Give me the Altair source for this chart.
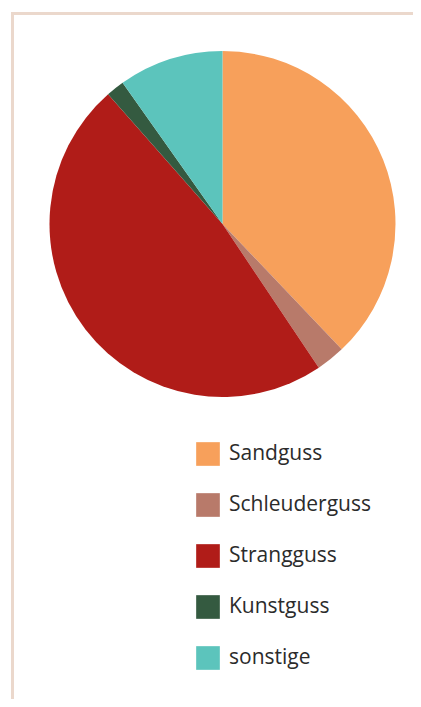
import altair as alt
import pandas as pd

categories = ["Sandguss", "Schleuderguss", "Strangguss", "Kunstguss", "sonstige"]
shares = [37.9, 2.7, 47.9, 1.7, 9.8]
colors = ["#F7A05B", "#B87A6A", "#B01C18", "#345A40", "#5CC4BC"]

df = pd.DataFrame({"Gussart": categories, "Anteil": shares, "order": list(range(len(categories)))})

W, H = 405, 691

pie = alt.Chart(df).mark_arc(outerRadius=173, stroke=None).encode(
    theta=alt.Theta("Anteil:Q", stack=True),
    order=alt.Order("order:Q"),
    color=alt.Color(
        "Gussart:N",
        sort=categories,
        scale=alt.Scale(domain=categories, range=colors),
        legend=alt.Legend(
            title=None,
            orient="none",
            legendX=188,
            legendY=434,
            symbolType="square",
            symbolSize=560,
            symbolStrokeWidth=0,
            labelFontSize=21,
            labelFont="Open Sans",
            labelColor="#2b2b2b",
            labelOffset=9,
            rowPadding=27,
            padding=0,
        ),
    ),
    x=alt.value(214.5),
    y=alt.value(216),
)

border_top = alt.Chart(df).mark_rule(color="#EBD8CC", strokeWidth=3).encode(
    x=alt.value(4.5), x2=alt.value(W), y=alt.value(5.5)
)
border_left = alt.Chart(df).mark_rule(color="#EBD8CC", strokeWidth=3).encode(
    x=alt.value(4.5), y=alt.value(4), y2=alt.value(H)
)

chart = alt.layer(border_top, border_left, pie).properties(
    width=W, height=H, padding=0, autosize=alt.AutoSizeParams(type="none")
).configure_view(stroke=None)

chart.save("out.html", embed_options={"renderer": "svg", "actions": False})
